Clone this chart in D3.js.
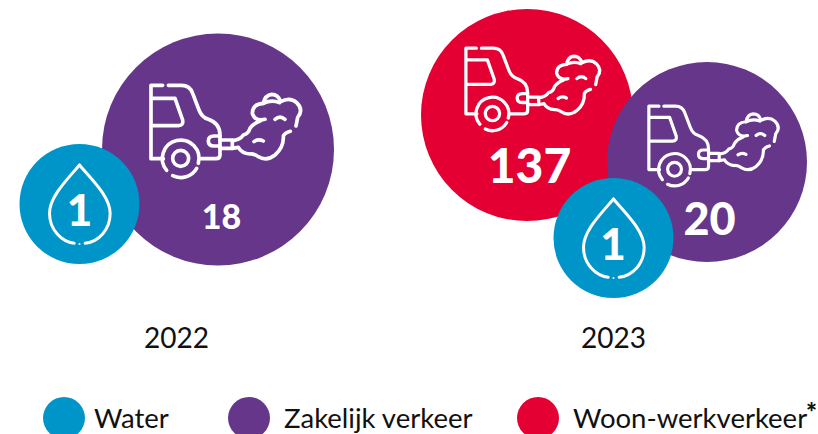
<!DOCTYPE html>
<html><head><meta charset="utf-8">
<script src="https://cdn.jsdelivr.net/npm/d3@7/dist/d3.min.js"></script>
<style>html,body{margin:0;padding:0;background:#fff;overflow:hidden}text{font-family:Lato,"Open Sans",sans-serif}</style>
</head><body><svg id="c" width="818" height="434"></svg>
<script>
const years = ["2022","2023"];
const categories = ["Water","Zakelijk verkeer","Woon-werkverkeer"];
const water = [1,1];
const zakelijk = [18,20];
const woonwerk = [null,137];

// layout, kept apart from the data
const colors = d3.scaleOrdinal(categories,["#0095c8","#653689","#e40032"]);
const yearX = d3.scalePoint(years,[176.5,613.5]);
const layout = {
  "2022|Zakelijk verkeer":{cx:218,cy:149.5,r:116,icon:[150,84,1],fs:34,tx:221.5,ty:229},
  "2022|Water":{cx:79.5,cy:204,r:60,fs:44,tx:79.5,ty:226},
  "2023|Woon-werkverkeer":{cx:527,cy:115,r:106,icon:[465,47,.895],fs:48,tx:529.5,ty:183},
  "2023|Zakelijk verkeer":{cx:707,cy:162,r:100,icon:[648,105,.865],fs:45,tx:709.5,ty:235},
  "2023|Water":{cx:613.5,cy:238,r:60,fs:44,tx:613,ty:260}
};
const order = ["Woon-werkverkeer","Zakelijk verkeer","Water"];
const series = {"Water":water,"Zakelijk verkeer":zakelijk,"Woon-werkverkeer":woonwerk};
const marks = [];
years.forEach((y,i)=>order.forEach(c=>{ if(series[c][i]!=null) marks.push({year:y,cat:c,value:series[c][i],...layout[y+"|"+c]}); }));

const carPaths = [
 "M488 76H453V296H490",
 "M505 76H545Q570 76 578 100L597 150Q605 172 625 178Q660 190 660 225V285Q660 296 648 296H604",
 "M455 115H525L548 180Q551 197 535 197H455",
 "M500 331A55 55 0 1 1 595 310",
 "M590 325A55 55 0 0 1 518 347",
 "M660 228H642Q625 228 625 243Q625 258 642 258H660",
 "M660 240H697V265H660",
 "M697 242Q720 240 730 225Q745 222 750 205Q760 190 780 183",
 "M795 178Q765 185 757 160Q757 132 790 130Q795 105 815 103Q835 103 842 125Q870 110 890 128Q912 150 893 172L888 198",
 "M871 214Q855 218 850 228Q852 262 825 285Q800 305 775 290Q760 280 750 282Q725 280 715 262L697 265",
 "M790 130Q815 118 838 128",
 "M825 178Q840 165 855 178",
 "M762 245Q775 235 790 243"
];
const dropPaths = [
 "M238 315C200 360 148 410 148 460C148 510 185 545 222 550",
 "M255 550C295 545 330 510 330 460C330 410 275 360 238 315"
];

const svg = d3.select("#c");
const g = svg.selectAll("g.mark").data(marks).join("g").attr("class","mark");
g.append("circle").attr("cx",d=>d.cx).attr("cy",d=>d.cy).attr("r",d=>d.r).attr("fill",d=>colors(d.cat));

const cars = g.filter(d=>d.icon).append("g")
  .attr("transform",d=>`translate(${d.icon[0]},${d.icon[1]}) scale(${d.icon[2]/3}) translate(-450,-72)`)
  .attr("fill","none").attr("stroke","#fff").attr("stroke-width",11).attr("stroke-linecap","round").attr("stroke-linejoin","round");
carPaths.forEach(p=>cars.append("path").attr("d",p));
cars.append("circle").attr("cx",542).attr("cy",295).attr("r",24);

const drops = g.filter(d=>d.cat==="Water").append("g")
  .attr("transform",d=>`translate(${d.cx},${d.cy}) scale(${1/3}) translate(-238,-432)`)
  .attr("fill","none").attr("stroke","#fff").attr("stroke-width",9).attr("stroke-linecap","round").attr("stroke-linejoin","round");
dropPaths.forEach(p=>drops.append("path").attr("d",p));
drops.append("circle").attr("cx",238).attr("cy",552).attr("r",3).attr("fill","#fff").attr("stroke","none");

g.append("text").attr("x",d=>d.tx).attr("y",d=>d.ty)
 .attr("text-anchor","middle").attr("font-weight",900).attr("font-size",d=>d.fs).attr("fill","#fff")
 .text(d=>d.value);

svg.selectAll("text.year").data(years).join("text").attr("class","year")
 .attr("x",d=>yearX(d)).attr("y",348).attr("text-anchor","middle").attr("font-size",28).attr("fill","#111").text(d=>d);

const legendX = d3.scaleOrdinal(categories,[64,249,538]);
const lg = svg.selectAll("g.lg").data(categories).join("g").attr("class","lg").attr("transform",d=>`translate(${legendX(d)},418)`);
lg.append("circle").attr("r",21).attr("fill",d=>colors(d));
lg.append("text").attr("x",d=>d==="Water"?30:35).attr("y",10).attr("font-size",27.5).attr("fill","#111").text(d=>d);
svg.append("text").attr("x",806).attr("y",422).attr("font-size",26).attr("font-weight",900).attr("fill","#111").text("*");
</script></body></html>
